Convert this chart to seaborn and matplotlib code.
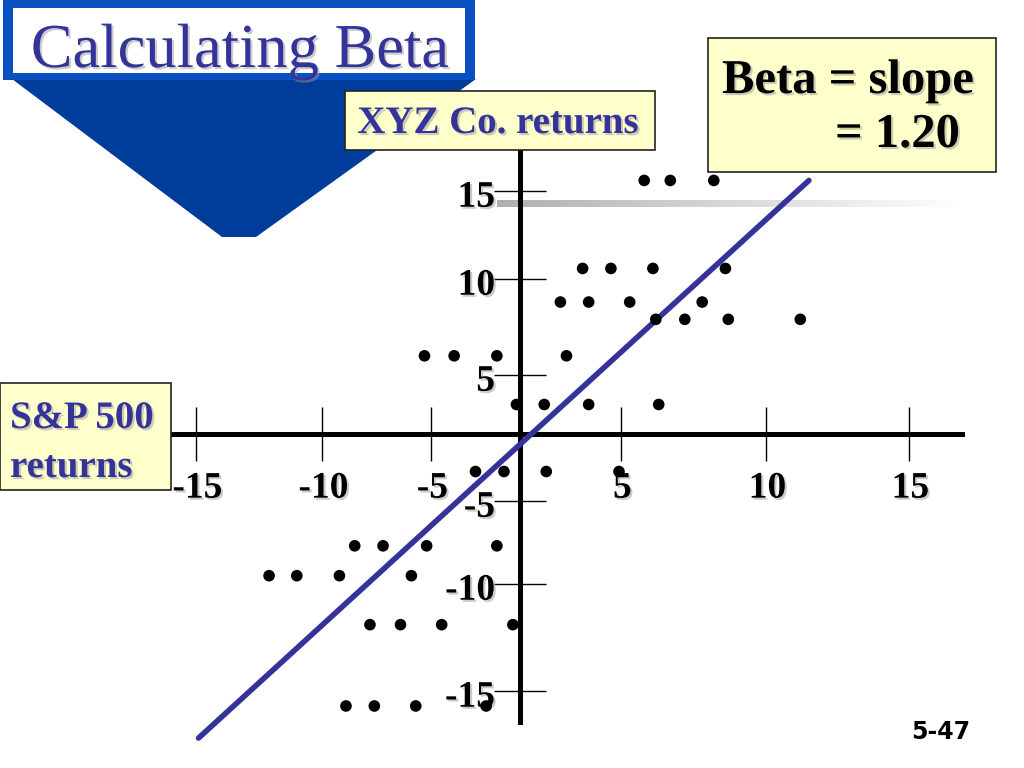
import numpy as np
import seaborn as sns
import matplotlib.pyplot as plt
import matplotlib.patheffects as pe
from matplotlib.patches import Rectangle, Polygon
from matplotlib.transforms import Affine2D
from matplotlib.colors import LinearSegmentedColormap

# S&P 500 returns (x) and XYZ Co. returns (y)
sp500 = [5.8, 6.7, 8.2,
         3.1, 4.5, 6.1, 8.6,
         2.0, 3.4, 5.3, 7.8,
         6.2, 7.2, 8.7, 11.2,
         -5.3, -3.7, -1.3, 2.3,
         -0.2, 1.2, 3.4, 6.3,
         -2.5, -0.9, 1.3, 4.9,
         -8.5, -7.2, -5.2, -1.3,
         -12.1, -11.0, -9.2, -5.9,
         -7.8, -6.4, -4.4, -0.4,
         -8.9, -7.6, -5.7, -1.9]
xyz = [15.6, 15.6, 15.6,
       10.6, 10.6, 10.6, 10.6,
       8.8, 8.8, 8.8, 8.8,
       7.9, 7.9, 7.9, 7.9,
       6.0, 6.0, 6.0, 6.0,
       2.5, 2.5, 2.5, 2.5,
       -2.8, -2.8, -2.8, -2.8,
       -7.7, -7.7, -7.7, -7.7,
       -9.5, -9.5, -9.5, -9.5,
       -11.9, -11.9, -11.9, -11.9,
       -15.7, -15.7, -15.7, -15.7]

# fitted line end points (beta = 1.20)
fit_x = [-14.9, 11.5]
fit_y = [-17.2, 15.6]

tick_vals = [-15, -10, -5, 5, 10, 15]

# the slide's hand-drawn axes are not evenly spaced: pixel position of each tick
scale_vals = [-15, -10, -5, 0, 5, 10, 15]
x_px = [196, 322, 431, 520, 621, 766, 909]
y_px = [691, 584, 501, 434, 375, 279, 191]

W, H = 1024, 768
NAVY = '#333399'
YELLOW = '#FFFFCC'


def make_scale(vals, px):
    vals = np.asarray(vals, float)
    px = np.asarray(px, float)
    lo = (px[1] - px[0]) / (vals[1] - vals[0])
    hi = (px[-1] - px[-2]) / (vals[-1] - vals[-2])
    v = np.r_[vals[0] - 100, vals, vals[-1] + 100]
    p = np.r_[px[0] - 100 * lo, px, px[-1] + 100 * hi]
    return (lambda a: np.interp(a, v, p)), (lambda q: np.interp(q, p, v))


fx, ix = make_scale(scale_vals, x_px)
fy, iy = make_scale(scale_vals, [H - p for p in y_px])

sns.set_theme(style='white')
plt.rcParams['font.family'] = ['Liberation Serif', 'DejaVu Serif']

fig = plt.figure(figsize=(10.24, 7.68), dpi=100)
fig.patch.set_facecolor('white')
px = Affine2D().scale(1 / W, -1 / H).translate(0, 1) + fig.transFigure
shadow = [pe.withSimplePatchShadow(offset=(1.5, -1.5), shadow_rgbFace='#999999', alpha=0.5)]

# grey fading bar behind the top of the y axis
gx = fig.add_axes([497 / W, 1 - 207 / H, (962 - 497) / W, 7 / H], zorder=-1)
gx.imshow(np.linspace(0, 1, 256)[None, :], aspect='auto',
          cmap=LinearSegmentedColormap.from_list('fade', ['#b0b0b0', '#ffffff']))
gx.axis('off')

ax = fig.add_axes([0, 0, 1, 1])
ax.set_facecolor('none')
ax.set_xscale('function', functions=(fx, ix))
ax.set_yscale('function', functions=(fy, iy))
ax.set_xlim(ix(0), ix(W))
ax.set_ylim(iy(0), iy(H))

sns.scatterplot(x=sp500, y=xyz, color='black', s=70, edgecolor='none',
                legend=False, ax=ax, zorder=4)
sns.lineplot(x=fit_x, y=fit_y, color=NAVY, linewidth=4, ax=ax, zorder=3)

for side in ['top', 'right']:
    ax.spines[side].set_visible(False)
ax.spines['left'].set_position(('data', 0))
ax.spines['bottom'].set_position(('data', 0))
ax.spines['left'].set_bounds(iy(H - 722), iy(H - 150))
ax.spines['bottom'].set_bounds(ix(170), ix(962))
for side in ['left', 'bottom']:
    ax.spines[side].set_linewidth(3.6)
    ax.spines[side].set_color('black')

ax.set_xticks(tick_vals)
ax.set_yticks(tick_vals)
ax.set_xticklabels([])
ax.set_yticklabels([])
ax.xaxis.set_minor_locator(plt.NullLocator())
ax.yaxis.set_minor_locator(plt.NullLocator())
ax.tick_params(axis='x', direction='inout', length=39, width=1, color='black', bottom=True)
ax.tick_params(axis='y', direction='inout', length=37, width=1, color='black', left=True)

for v in tick_vals:
    ax.annotate(str(v), xy=(v, 0), xytext=(1, -39), textcoords='offset points',
                ha='center', va='center', fontsize=27, fontweight='bold',
                color='black', path_effects=shadow)
    ax.annotate(str(v), xy=(0, v), xytext=(-18, -4.5), textcoords='offset points',
                ha='right', va='center', fontsize=27, fontweight='bold',
                color='black', path_effects=shadow)

# title banner
fig.add_artist(Polygon([(12, 79), (476, 79), (256, 237), (222, 237)],
                       closed=True, transform=px, facecolor='#003c9a', edgecolor='none'))
fig.add_artist(Rectangle((3, 0), 472, 80, transform=px, facecolor='#0a50c0', edgecolor='none'))
fig.add_artist(Rectangle((13, 8), 452, 65, transform=px, facecolor='white', edgecolor='none'))
fig.text(240, 67, 'Calculating Beta', transform=px, ha='center', va='baseline',
         fontsize=45, color=NAVY, path_effects=shadow)

# label boxes
fig.add_artist(Rectangle((345, 91), 310, 59, transform=px, facecolor=YELLOW,
                         edgecolor='#222222', lw=1.2))
fig.text(498, 133, 'XYZ Co. returns', transform=px, ha='center', va='baseline',
         fontsize=28, fontweight='bold', color=NAVY, path_effects=shadow)

fig.add_artist(Rectangle((0, 383), 171, 107, transform=px, facecolor=YELLOW,
                         edgecolor='#222222', lw=1.2))
fig.text(10, 428, 'S&P 500', transform=px, ha='left', va='baseline',
         fontsize=28, fontweight='bold', color=NAVY, path_effects=shadow)
fig.text(10, 477, 'returns', transform=px, ha='left', va='baseline',
         fontsize=28, fontweight='bold', color=NAVY, path_effects=shadow)

fig.add_artist(Rectangle((708, 38), 288, 134, transform=px, facecolor=YELLOW,
                         edgecolor='#222222', lw=1.2))
fig.text(722, 93, 'Beta = slope', transform=px, ha='left', va='baseline',
         fontsize=35, fontweight='bold', color='black', path_effects=shadow)
fig.text(835, 147, '= 1.20', transform=px, ha='left', va='baseline',
         fontsize=35, fontweight='bold', color='black', path_effects=shadow)

fig.text(941, 739, '5-47', transform=px, ha='center', va='baseline',
         fontsize=17, fontweight='bold', color='black', family='DejaVu Sans')

fig.savefig('out.png', dpi=100)
